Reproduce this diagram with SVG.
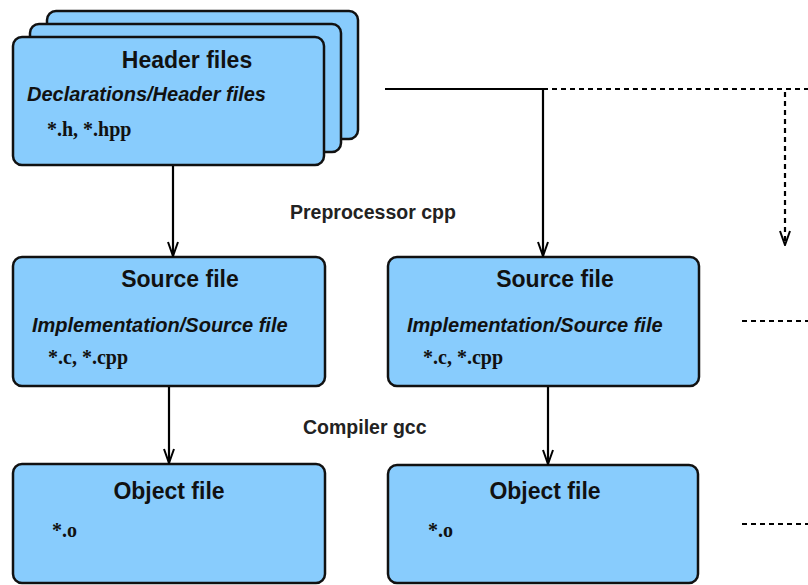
<svg xmlns="http://www.w3.org/2000/svg" width="808" height="585" viewBox="0 0 808 585">
  <defs>
    <marker id="arrow" viewBox="0 0 16 12" refX="15" refY="6" markerWidth="16" markerHeight="12" markerUnits="userSpaceOnUse" orient="auto">
      <path d="M1,1 L15,6 L1,11" fill="none" stroke="#000" stroke-width="2"/>
    </marker>
  </defs>
  <style>
    .box { fill: #88ccfd; stroke: #111; stroke-width: 2.5; }
    .title { font-family: "Liberation Sans", Arial, sans-serif; font-weight: bold; font-size: 23px; fill: #111; text-anchor: middle; }
    .sub { font-family: "Liberation Sans", Arial, sans-serif; font-style: italic; font-weight: bold; font-size: 20px; fill: #111; }
    .ext { font-family: "Liberation Serif", "Times New Roman", serif; font-weight: bold; font-size: 20px; fill: #111; }
    .step { font-family: "Liberation Sans", Arial, sans-serif; font-weight: bold; font-size: 19.5px; fill: #222; }
    .edge { fill: none; stroke: #000; stroke-width: 2.2; }
    .dash { fill: none; stroke: #000; stroke-width: 2.2; stroke-dasharray: 5 4; }
  </style>

  <!-- header files: stacked cards -->
  <g id="header-files">
    <rect class="box" x="47" y="11" width="311" height="128" rx="9"/>
    <rect class="box" x="30" y="24" width="311" height="128" rx="9"/>
    <rect class="box" x="13" y="37" width="311" height="128" rx="9"/>
    <text class="title" x="187" y="68">Header files</text>
    <text class="sub" x="27" y="101">Declarations/Header files</text>
    <text class="ext" x="47" y="136">*.h, *.hpp</text>
  </g>

  <g id="source-file-1">
    <rect class="box" x="13" y="257" width="312" height="129" rx="9"/>
    <text class="title" x="180" y="287">Source file</text>
    <text class="sub" x="32" y="332">Implementation/Source file</text>
    <text class="ext" x="48" y="364">*.c, *.cpp</text>
  </g>

  <g id="source-file-2">
    <rect class="box" x="388" y="257" width="311" height="129" rx="9"/>
    <text class="title" x="555" y="287">Source file</text>
    <text class="sub" x="407" y="332">Implementation/Source file</text>
    <text class="ext" x="423" y="364">*.c, *.cpp</text>
  </g>

  <g id="object-file-1">
    <rect class="box" x="13" y="464" width="312" height="119" rx="9"/>
    <text class="title" x="169" y="499">Object file</text>
    <text class="ext" x="52" y="537">*.o</text>
  </g>

  <g id="object-file-2">
    <rect class="box" x="388" y="465" width="310" height="118" rx="9"/>
    <text class="title" x="545" y="499">Object file</text>
    <text class="ext" x="428" y="537">*.o</text>
  </g>

  <g id="step-labels">
    <text class="step" x="290" y="219">Preprocessor cpp</text>
    <text class="step" x="303" y="434">Compiler gcc</text>
  </g>

  <g id="connectors">
    <path class="edge" d="M173,166 V256" marker-end="url(#arrow)"/>
    <path class="edge" d="M385,89 H543 V256" marker-end="url(#arrow)"/>
    <path class="dash" d="M543,89 H808"/>
    <path class="dash" d="M785,92 V245" marker-end="url(#arrow)"/>
    <path class="edge" d="M169,387 V463" marker-end="url(#arrow)"/>
    <path class="edge" d="M548,387 V464" marker-end="url(#arrow)"/>
    <path class="dash" d="M742,321 H808"/>
    <path class="dash" d="M742,524 H808"/>
  </g>
</svg>
